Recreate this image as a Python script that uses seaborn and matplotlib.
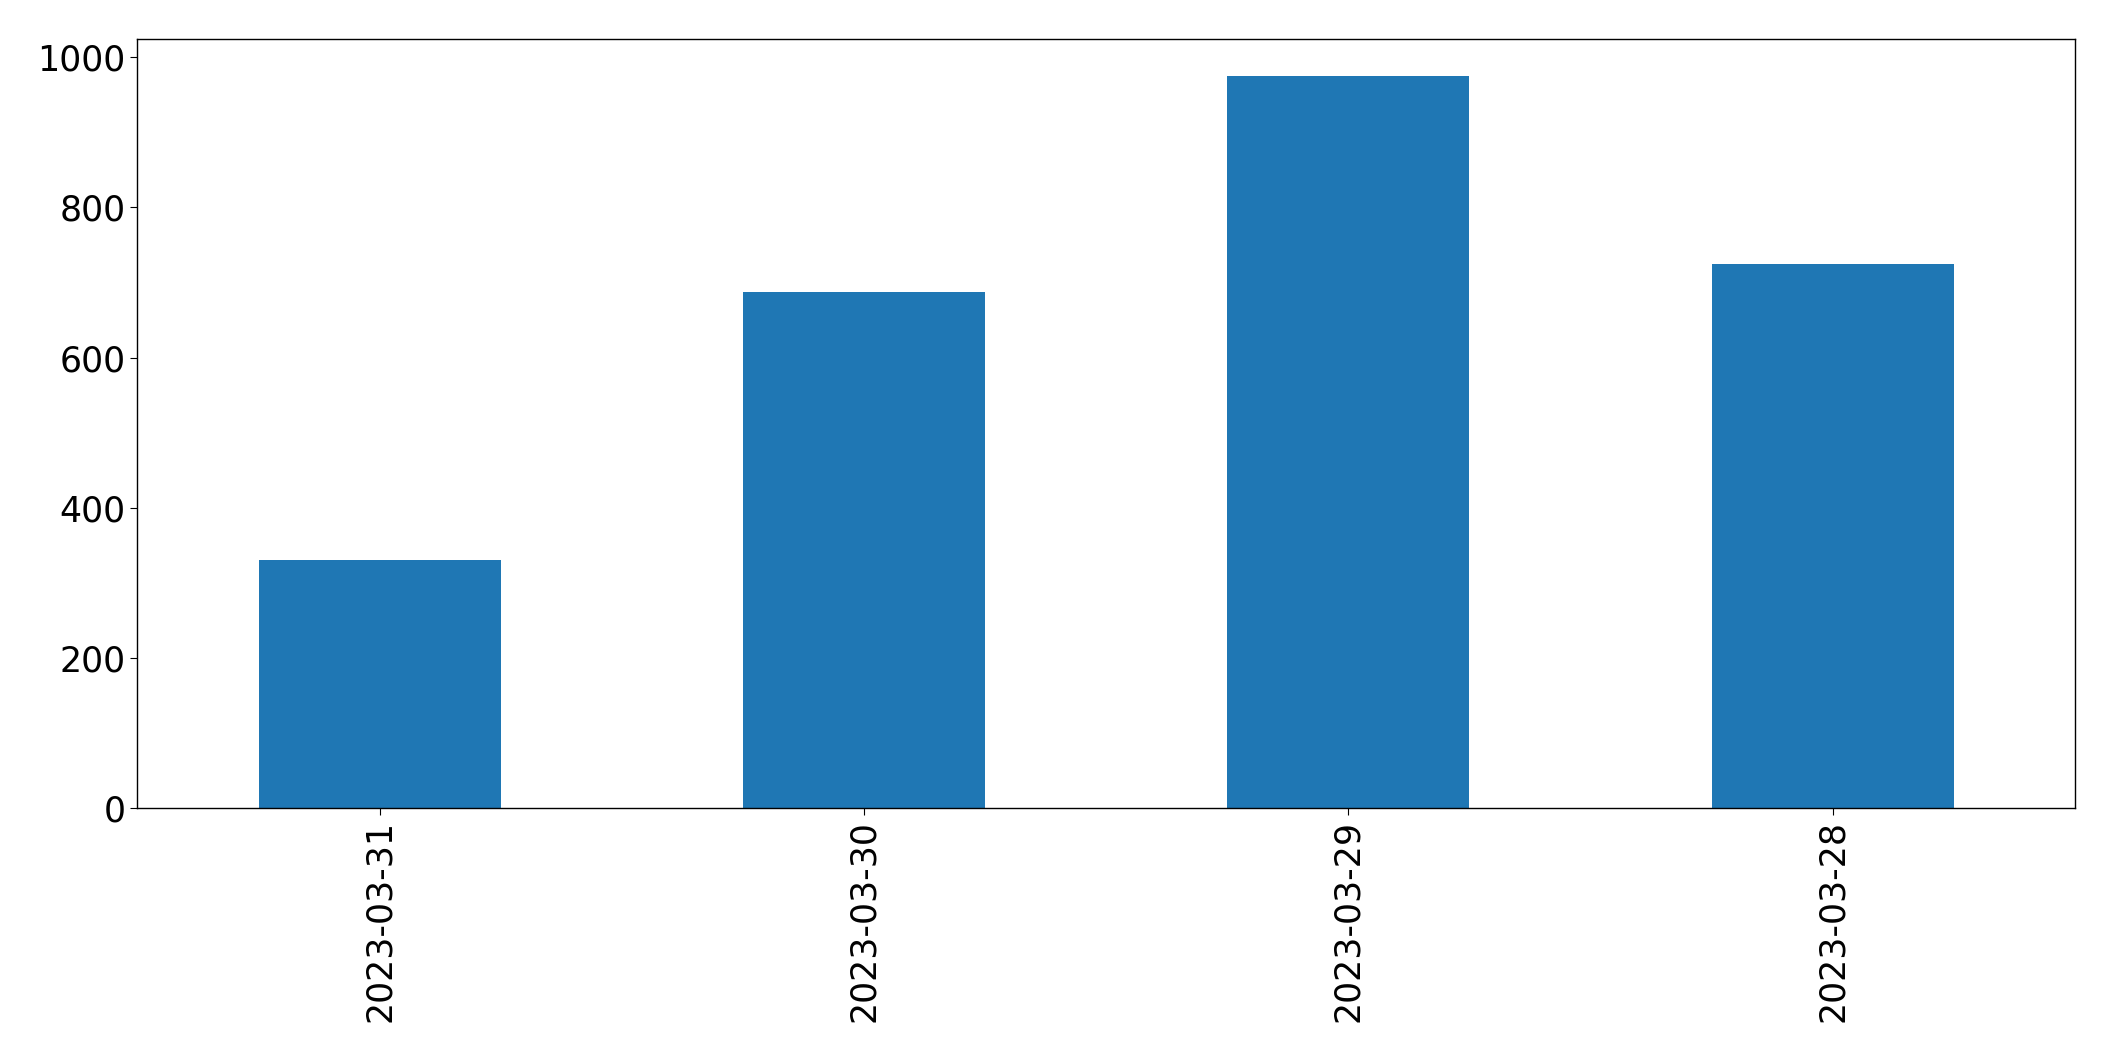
import matplotlib
matplotlib.use("Agg")
import matplotlib.pyplot as plt
import pandas as pd
import seaborn as sns

dates = ["2023-03-31", "2023-03-30", "2023-03-29", "2023-03-28"]
counts = [331, 687, 975, 725]

df = pd.DataFrame({"date": dates, "count": counts})

fig, ax = plt.subplots(figsize=(21.15, 10.61), dpi=100)
fig.subplots_adjust(left=0.065, right=0.981, top=0.963, bottom=0.238)

sns.barplot(data=df, x="date", y="count", color="#1f77b4", saturation=1, width=0.5,
            linewidth=0, ax=ax)
ax.set_xlim(-0.5, len(dates) - 0.5)
ax.set_ylim(0, max(counts) * 1.05)
ax.set_xlabel("")
ax.set_ylabel("")
ax.tick_params(axis="both", labelsize=25, length=5, color="black")
for s in ax.spines.values():
    s.set_color("black")
    s.set_linewidth(1.0)
plt.setp(ax.get_xticklabels(), rotation=90)

plt.savefig("out.png", dpi=100)
